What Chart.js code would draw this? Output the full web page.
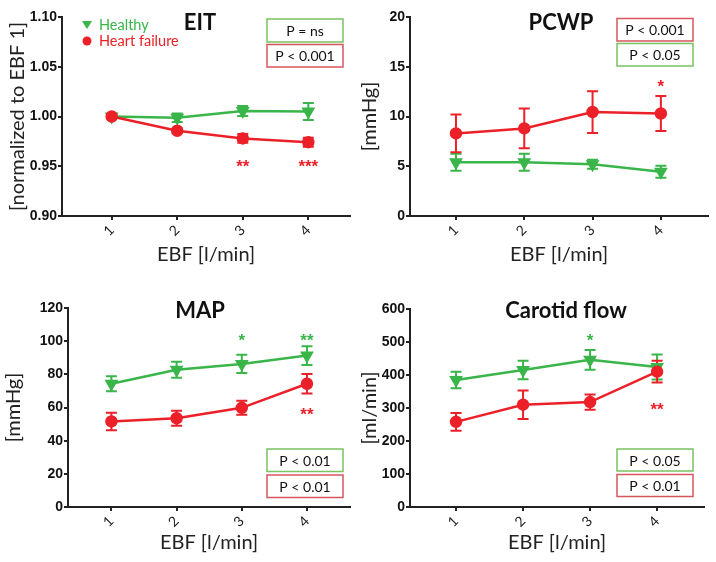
<!DOCTYPE html>
<html>
<head>
<title>EBF panels</title>
<script src="https://cdn.jsdelivr.net/npm/chart.js"></script>
<style>
  body { margin: 0; background: #fff; }
  #wrap { position: relative; width: 716px; height: 562px; }
  #wrap canvas { position: absolute; }
</style>
</head>
<body>
<div id="wrap">
  <canvas id="eit" width="358" height="280" style="left:0;top:0"></canvas>
  <canvas id="pcwp" width="358" height="280" style="left:358px;top:0"></canvas>
  <canvas id="map" width="358" height="282" style="left:0;top:280px"></canvas>
  <canvas id="carotid" width="358" height="282" style="left:358px;top:280px"></canvas>
</div>

<script>
    // EBF steps [l/min]
    const ebf = [1, 2, 3, 4];

    // EIT, normalized to EBF 1
    const eitHealthy = [1.000, 0.9987, 1.0055, 1.0050];
    const eitHealthyErr = [0, 0.0043, 0.0050, 0.0085];
    const eitHF = [1.000, 0.9857, 0.9780, 0.9742];
    const eitHFErr = [0.001, 0.0022, 0.0043, 0.0045];

    // PCWP [mmHg]
    const pcwpHealthy = [5.4, 5.4, 5.2, 4.45];
    const pcwpHealthyErr = [0.85, 0.85, 0.45, 0.6];
    const pcwpHF = [8.3, 8.8, 10.45, 10.3];
    const pcwpHFErr = [1.9, 2.0, 2.1, 1.75];

    // MAP [mmHg]
    const mapHealthy = [74.3, 82.8, 86.3, 91.3];
    const mapHealthyErr = [4.5, 4.8, 5.5, 5.6];
    const mapHF = [51.6, 53.5, 59.8, 74.3];
    const mapHFErr = [5.3, 4.5, 4.2, 5.9];

    // Carotid flow [ml/min]
    const carHealthy = [385, 415, 446, 424];
    const carHealthyErr = [25, 28, 30, 38];
    const carHF = [258, 310, 318, 410];
    const carHFErr = [27, 43, 23, 33];

    const GREEN = 'rgb(57, 181, 74)';
    const RED = 'rgb(236, 32, 40)';
    const GREEN_BOX = 'rgb(120, 196, 96)';
    const RED_BOX = 'rgb(214, 86, 92)';

    // draws the vertical SEM bars through the chart's scales
    const errorBars = {
        id: 'errorBars',
        beforeDatasetsDraw(chart) {
            const ctx = chart.ctx;
            const xs = chart.scales.x, ys = chart.scales.y;
            chart.data.datasets.forEach(ds => {
                if (!ds.errors) return;
                ctx.save();
                ctx.strokeStyle = ds.borderColor;
                ctx.lineWidth = 2;
                ds.data.forEach((p, j) => {
                    const e = ds.errors[j];
                    if (!e) return;
                    const x = xs.getPixelForValue(p.x);
                    const y1 = ys.getPixelForValue(p.y + e);
                    const y2 = ys.getPixelForValue(p.y - e);
                    ctx.beginPath();
                    ctx.moveTo(x, y1); ctx.lineTo(x, y2);
                    ctx.moveTo(x - 5.5, y1); ctx.lineTo(x + 5.5, y1);
                    ctx.moveTo(x - 5.5, y2); ctx.lineTo(x + 5.5, y2);
                    ctx.stroke();
                });
                ctx.restore();
            });
        }
    };

    // panel title, p-value boxes, stars and the legend
    const deco = {
        id: 'deco',
        afterDraw(chart, args, opts) {
            const ctx = chart.ctx;
            const xs = chart.scales.x, ys = chart.scales.y;
            ctx.save();
            ctx.textBaseline = 'middle';

            ctx.fillStyle = '#111';
            ctx.font = 'bold 22px Lato';
            ctx.textAlign = 'center';
            ctx.fillText(opts.title, opts.titleX, opts.titleY);

            ctx.font = '14px Lato';
            (opts.boxes || []).forEach(b => {
                ctx.strokeStyle = b.color;
                ctx.lineWidth = 1.5;
                ctx.strokeRect(b.x, b.y, b.w, b.h);
                ctx.fillStyle = '#111';
                ctx.fillText(b.text, b.x + b.w / 2, b.y + b.h / 2 + 1);
            });

            ctx.font = 'bold 17px "Liberation Sans"';
            (opts.stars || []).forEach(s => {
                ctx.fillStyle = s.color;
                ctx.fillText(s.text, xs.getPixelForValue(s.x), ys.getPixelForValue(s.y) + 4);
            });

            if (opts.legend) {
                const lx = 87;
                ctx.font = '14.5px Lato';
                ctx.textAlign = 'left';
                // Healthy: down triangle
                ctx.fillStyle = GREEN;
                ctx.beginPath();
                ctx.moveTo(lx - 5, 21); ctx.lineTo(lx + 5, 21); ctx.lineTo(lx, 29);
                ctx.closePath(); ctx.fill();
                ctx.fillText('Healthy', 99, 25);
                // Heart failure: circle
                ctx.fillStyle = RED;
                ctx.beginPath();
                ctx.arc(lx, 41, 4.5, 0, Math.PI * 2);
                ctx.fill();
                ctx.fillText('Heart failure', 99, 41);
            }
            ctx.restore();
        }
    };

    function pts(values) {
        return values.map((v, i) => ({ x: ebf[i], y: v }));
    }

    function makePanel(id, cfg) {
        const ctx = document.getElementById(id).getContext('2d');
        return new Chart(ctx, {
            type: 'line',
            data: {
                datasets: [
                    {
                        label: 'Healthy',
                        data: pts(cfg.healthy),
                        errors: cfg.healthyErr,
                        borderColor: GREEN,
                        backgroundColor: GREEN,
                        borderWidth: 2.5,
                        pointStyle: 'triangle',
                        rotation: 180,
                        pointRadius: 5.5,
                        order: 2
                    },
                    {
                        label: 'Heart failure',
                        data: pts(cfg.hf),
                        errors: cfg.hfErr,
                        borderColor: RED,
                        backgroundColor: RED,
                        borderWidth: 2.5,
                        pointStyle: 'circle',
                        pointRadius: 5,
                        order: 1
                    }
                ]
            },
            options: {
                responsive: false,
                animation: false,
                layout: { padding: cfg.padding },
                plugins: {
                    legend: { display: false },
                    tooltip: { enabled: false },
                    deco: cfg.deco
                },
                scales: {
                    x: {
                        type: 'linear',
                        min: cfg.xMin,
                        max: cfg.xMax,
                        afterBuildTicks: axis => { axis.ticks = ebf.map(v => ({ value: v })); },
                        afterFit: axis => { axis.height = cfg.xHeight; },
                        grid: { display: true, drawOnChartArea: false, color: '#222', lineWidth: 2, tickLength: 4 },
                        border: { color: '#222', width: 2 },
                        ticks: {
                            minRotation: 45, maxRotation: 45, padding: 2,
                            color: '#222',
                            font: { family: 'Lato', size: 14 },
                            callback: v => String(v)
                        },
                        title: {
                            display: true, text: 'EBF [l/min]', color: '#222',
                            font: { family: 'Lato', size: 20 },
                            padding: { top: 0, bottom: cfg.xTitlePad }
                        }
                    },
                    y: {
                        min: cfg.yMin,
                        max: cfg.yMax,
                        afterFit: axis => { axis.width = cfg.yWidth; },
                        grid: { display: true, drawOnChartArea: false, color: '#222', lineWidth: 2, tickLength: 4 },
                        border: { color: '#222', width: 2 },
                        ticks: {
                            stepSize: cfg.yStep, padding: 1, color: '#111',
                            font: { family: 'Liberation Sans', size: 14, weight: 'bold' },
                            callback: v => v.toFixed(cfg.yDec)
                        },
                        title: {
                            display: true, text: cfg.yTitle, color: '#222',
                            font: { family: 'Lato', size: 20 },
                            padding: { top: cfg.yTitlePad, bottom: 0 }
                        }
                    }
                }
            },
            plugins: [errorBars, deco]
        });
    }

    makePanel('eit', {
        healthy: eitHealthy, healthyErr: eitHealthyErr, hf: eitHF, hfErr: eitHFErr,
        padding: { top: 17, right: 6, bottom: 0, left: 0 },
        xMin: 0.242, xMax: 4.636, xHeight: 64, xTitlePad: 13,
        yMin: 0.9, yMax: 1.1, yStep: 0.05, yDec: 2, yWidth: 62, yTitlePad: 6,
        yTitle: '[normalized to EBF 1]',
        deco: {
            title: 'EIT', titleX: 200, titleY: 23, legend: true,
            boxes: [
                { text: 'P = ns', color: GREEN_BOX, x: 267, y: 19, w: 76, h: 23 },
                { text: 'P < 0.001', color: RED_BOX, x: 267, y: 44.5, w: 76, h: 22.5 }
            ],
            stars: [
                { text: '**', x: 3, y: 0.953, color: RED },
                { text: '***', x: 4, y: 0.953, color: RED }
            ]
        }
    });

    makePanel('pcwp', {
        healthy: pcwpHealthy, healthyErr: pcwpHealthyErr, hf: pcwpHF, hfErr: pcwpHFErr,
        padding: { top: 17, right: 8, bottom: 0, left: 0 },
        xMin: 0.327, xMax: 4.69, xHeight: 64, xTitlePad: 13,
        yMin: 0, yMax: 20, yStep: 5, yDec: 0, yWidth: 52, yTitlePad: 0,
        yTitle: '[mmHg]',
        deco: {
            title: 'PCWP', titleX: 203, titleY: 23,
            boxes: [
                { text: 'P < 0.001', color: RED_BOX, x: 259, y: 18.5, w: 76, h: 22.5 },
                { text: 'P < 0.05', color: GREEN_BOX, x: 259, y: 43.5, w: 76, h: 22.5 }
            ],
            stars: [
                { text: '*', x: 4, y: 13.3, color: RED }
            ]
        }
    });

    makePanel('map', {
        healthy: mapHealthy, healthyErr: mapHealthyErr, hf: mapHF, hfErr: mapHFErr,
        padding: { top: 28, right: 0, bottom: 0, left: 0 },
        xMin: 0.334, xMax: 4.66, xHeight: 55, xTitlePad: 7,
        yMin: 0, yMax: 120, yStep: 20, yDec: 0, yWidth: 68, yTitlePad: 2,
        yTitle: '[mmHg]',
        deco: {
            title: 'MAP', titleX: 200, titleY: 31,
            boxes: [
                { text: 'P < 0.01', color: GREEN_BOX, x: 267, y: 169, w: 76, h: 22.5 },
                { text: 'P < 0.01', color: RED_BOX, x: 267, y: 195, w: 76, h: 22.5 }
            ],
            stars: [
                { text: '*', x: 3, y: 102.5, color: GREEN },
                { text: '**', x: 4, y: 102.5, color: GREEN },
                { text: '**', x: 4, y: 58, color: RED }
            ]
        }
    });

    makePanel('carotid', {
        healthy: carHealthy, healthyErr: carHealthyErr, hf: carHF, hfErr: carHFErr,
        padding: { top: 29, right: 12, bottom: 0, left: 0 },
        xMin: 0.313, xMax: 4.70, xHeight: 55, xTitlePad: 7,
        yMin: 0, yMax: 600, yStep: 100, yDec: 0, yWidth: 52, yTitlePad: 0,
        yTitle: '[ml/min]',
        deco: {
            title: 'Carotid flow', titleX: 208, titleY: 31,
            boxes: [
                { text: 'P < 0.05', color: GREEN_BOX, x: 259, y: 169, w: 76, h: 22 },
                { text: 'P < 0.01', color: RED_BOX, x: 259, y: 194.5, w: 76, h: 22 }
            ],
            stars: [
                { text: '*', x: 3, y: 515, color: GREEN },
                { text: '**', x: 4, y: 306, color: RED }
            ]
        }
    });
</script>
</body>
</html>
